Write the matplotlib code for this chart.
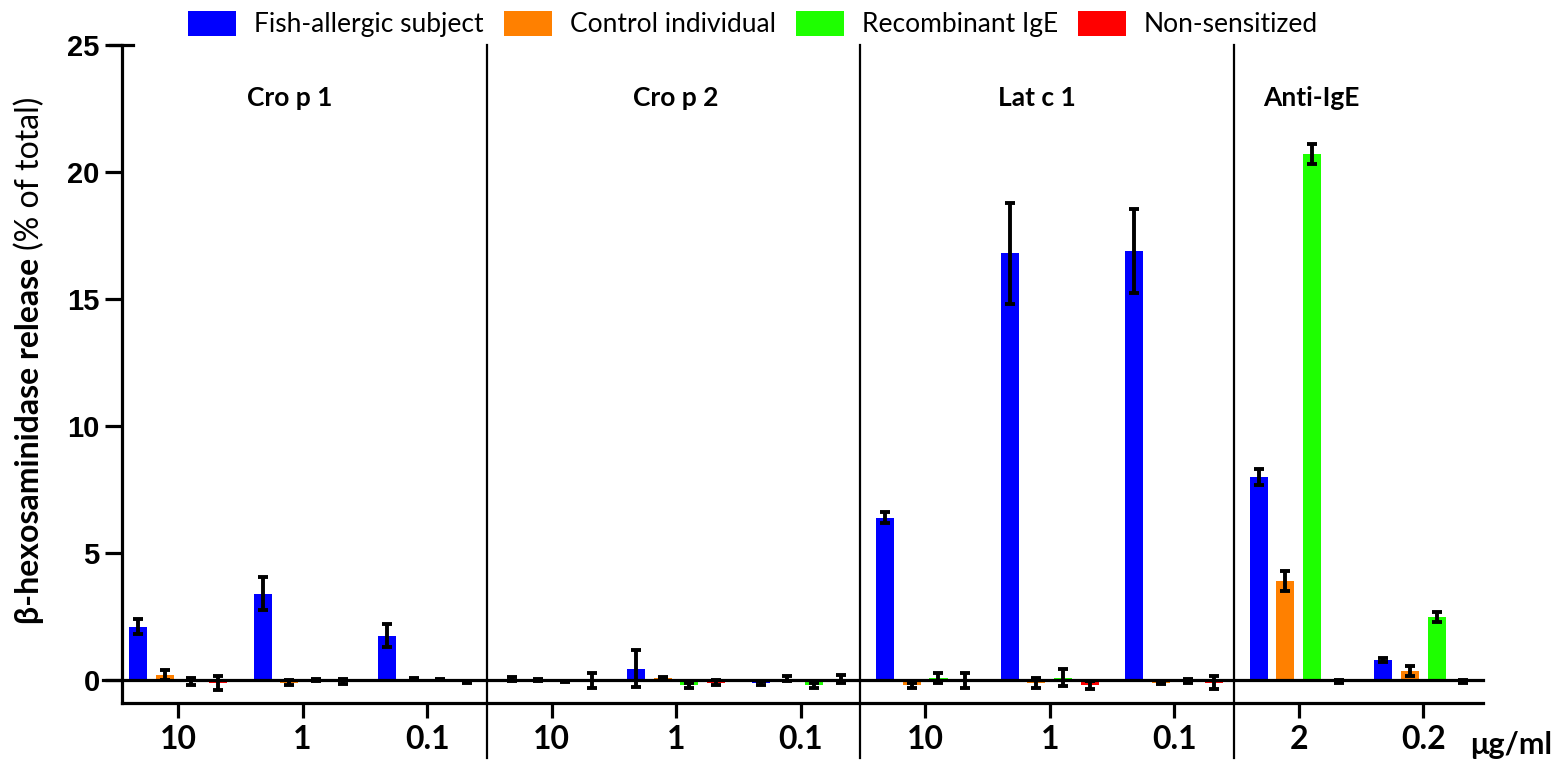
import numpy as np
import matplotlib
matplotlib.use("Agg")
from matplotlib import pyplot as plt

# values (% of total)
allergens = ["Cro p 1", "Cro p 2", "Lat c 1", "Anti-IgE"]
tick_labels = ["10", "1", "0.1", "10", "1", "0.1", "10", "1", "0.1", "2", "0.2"]
series = ["Fish-allergic subject", "Control individual", "Recombinant IgE", "Non-sensitized"]
colors = ["#0000ff", "#ff8000", "#1eff00", "#ff0000"]

fish = [2.1, 3.4, 1.75, 0.05, 0.45, -0.1, 6.4, 16.8, 16.9, 8.0, 0.8]
fish_err = [0.3, 0.65, 0.45, 0.08, 0.73, 0.08, 0.2, 2.0, 1.65, 0.3, 0.08]
control = [0.2, -0.1, 0.05, 0.0, 0.08, 0.05, -0.2, -0.1, -0.1, 3.9, 0.35]
control_err = [0.2, 0.1, 0.05, 0.03, 0.06, 0.1, 0.1, 0.2, 0.05, 0.38, 0.2]
recomb = [-0.05, 0.0, 0.02, -0.05, -0.2, -0.2, 0.1, 0.1, -0.05, 20.7, 2.5]
recomb_err = [0.15, 0.05, 0.03, 0.03, 0.1, 0.1, 0.2, 0.35, 0.08, 0.4, 0.2]
nonsens = [-0.1, -0.05, -0.08, 0.0, -0.1, 0.05, 0.0, -0.2, -0.1, -0.05, -0.05]
nonsens_err = [0.28, 0.1, 0.05, 0.3, 0.1, 0.15, 0.3, 0.15, 0.25, 0.05, 0.05]

values = [fish, control, recomb, nonsens]
errors = [fish_err, control_err, recomb_err, nonsens_err]

calibri = ["Lato", "DejaVu Sans"]
arial = ["Liberation Sans", "DejaVu Sans"]

fig = plt.figure(figsize=(15.59, 7.62), dpi=100)
ax = fig.add_axes([122/1559, 1-703/762, (1483-122)/1559, (703-45)/762])

x = np.arange(len(tick_labels))
step = 0.214
width = 0.145
for i, (vals, errs) in enumerate(zip(values, errors)):
    pos = x + (i - 1.5) * step
    ax.bar(pos, vals, width, color=colors[i], label=series[i], zorder=2)
    ax.errorbar(pos, vals, yerr=errs, fmt="none", ecolor="black",
                elinewidth=2.8, capsize=3.8, capthick=2.8, zorder=3)

ax.set_xlim(-0.45, 10.48)
ax.set_ylim(-0.9, 25)

for s in ["top", "right"]:
    ax.spines[s].set_visible(False)
for s in ["left", "bottom"]:
    ax.spines[s].set_linewidth(2.3)

# zero line, reaching slightly left of the y axis
ax.plot([-0.014, 1], [0, 0], color="black", lw=2.3, clip_on=False,
        transform=ax.get_yaxis_transform(), zorder=4)
# small cap on top of the y axis
ax.plot([-0.009, 0.008], [25, 25], color="black", lw=2.3, clip_on=False,
        transform=ax.get_yaxis_transform(), zorder=4)

# section separators
for sx in [2.48, 5.48, 8.48]:
    ax.plot([sx, sx], [-3.05, 25], color="black", lw=1.6, clip_on=False, zorder=4)

# section titles
for name, cx in zip(allergens, [0.9, 4.0, 6.9, 9.1]):
    ax.text(cx, 22.9, name, ha="center", va="center", fontsize=19,
            fontweight="bold", family=calibri)

ax.set_yticks([0, 5, 10, 15, 20, 25])
ax.set_yticklabels(["0", "5", "10", "15", "20", "25"], fontsize=21,
                   fontweight="bold", family=arial)
ax.tick_params(axis="y", length=12, width=2.3, pad=4)

ax.set_xticks(x)
ax.set_xticklabels(tick_labels, fontsize=23, fontweight="bold", family=calibri)
ax.tick_params(axis="x", length=11, width=2.3, pad=5)

fig.text(1470/1559, 1-745/762, "μg/ml", ha="left", va="center",
         fontsize=22, fontweight="bold", family=calibri)

# y label: bold part + regular part
split_y = 1 - 250/762
fig.text(30/1559, split_y, "β-hexosaminidase release ", rotation=90,
         rotation_mode="anchor", ha="right", va="center", fontsize=23,
         fontweight="bold", family=calibri)
fig.text(30/1559, split_y, "(% of total)", rotation=90,
         rotation_mode="anchor", ha="left", va="center", fontsize=23,
         family=calibri)

fig.legend(loc="center", bbox_to_anchor=(0.483, 1-24/762), ncol=4,
           frameon=False, prop={"family": calibri, "size": 19},
           handlelength=1.82, handleheight=1.1, handletextpad=0.68,
           columnspacing=0.76)

fig.savefig("out.png", dpi=100)
